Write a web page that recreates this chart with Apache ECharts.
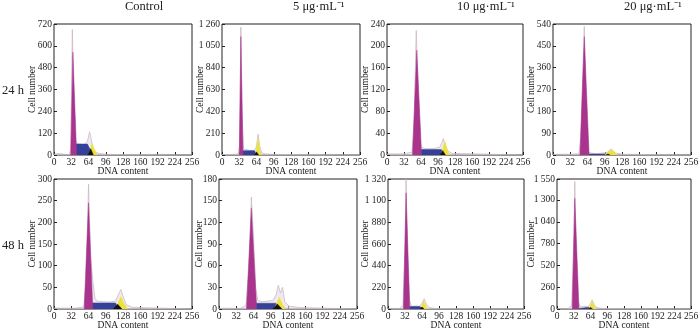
<!DOCTYPE html>
<html>
<head>
<meta charset="utf-8">
<script src="https://cdn.jsdelivr.net/npm/echarts@6/dist/echarts.min.js"></script>
<style>
  html, body { margin: 0; padding: 0; background: #fff; }
  #chart { width: 700px; height: 328px; }
</style>
</head>
<body>
<div id="chart"></div>
<script>
// column / row labels
var colTitles = ['Control', '5 μg·mL⁻¹', '10 μg·mL⁻¹', '20 μg·mL⁻¹']
var rowTitles = ['24 h', '48 h']

// y axis max and step per panel (row 1 then row 2)
var yMax = [720, 1260, 240, 540, 300, 180, 1320, 1550]
var yStep = [120, 210, 40, 90, 50, 30, 220, 260]

// each shape is [DNA content, cell number]
// 24 h, control
var c24Raw = [[0, 5], [10, 8], [20, 4], [28, 2], [31, 30], [34, 690], [37, 300], [40, 80], [44, 62], [50, 60], [56, 58], [62, 75], [66, 128], [69, 90], [72, 40], [76, 15], [85, 8], [100, 3], [256, 0]]
var c24G1 = [[31, 0], [35, 565], [42, 0]]
var c24S = [[35, 0], [38, 60], [62, 60], [72, 0]]
var c24G2 = [[64, 0], [71, 62], [75, 30], [81, 0]]
var c24Blk = [[63, 0], [68, 35], [73, 0]]
// 24 h, 5 ug/mL
var d5h24Raw = [[0, 5], [20, 5], [30, 10], [33, 100], [35, 1230], [37, 400], [40, 60], [50, 45], [60, 45], [64, 80], [67, 200], [70, 80], [74, 20], [80, 10], [100, 5], [256, 0]]
var d5h24G1 = [[32, 0], [35, 1140], [39, 0]]
var d5h24S = [[36, 0], [37, 42], [60, 42], [66, 0]]
var d5h24G2 = [[62, 0], [67, 165], [70, 40], [74, 0]]
var d5h24Blk = [[60, 0], [64, 30], [68, 0]]
// 24 h, 10 ug/mL
var d10h24Raw = [[0, 2], [30, 2], [47, 5], [51, 60], [55, 228], [59, 120], [64, 15], [70, 12], [80, 12], [90, 12], [100, 15], [106, 30], [109, 20], [114, 8], [122, 3], [256, 0]]
var d10h24G1 = [[48, 0], [56, 192], [65, 0]]
var d10h24S = [[58, 0], [62, 10], [102, 10], [112, 0]]
var d10h24G2 = [[102, 0], [109, 25], [113, 10], [118, 0]]
var d10h24Blk = [[100, 0], [105, 8], [110, 0]]
// 24 h, 20 ug/mL
var d20h24Raw = [[0, 3], [30, 3], [48, 5], [52, 80], [58, 530], [62, 150], [66, 10], [80, 5], [100, 10], [108, 25], [116, 8], [130, 3], [256, 0]]
var d20h24G1 = [[50, 0], [58, 488], [67, 0]]
var d20h24S = [[56, 0], [60, 4], [100, 4], [106, 0]]
var d20h24G2 = [[96, 0], [108, 22], [120, 0]]
var d20h24Blk = [[98, 0], [102, 4], [106, 0]]
// 48 h, control
var c48Raw = [[0, 2], [40, 2], [55, 5], [60, 60], [64, 288], [68, 120], [72, 65], [76, 25], [80, 18], [100, 16], [114, 18], [120, 35], [124, 45], [128, 30], [134, 10], [145, 4], [170, 3], [200, 2], [256, 0]]
var c48G1 = [[56, 0], [64, 245], [72, 0]]
var c48S = [[64, 0], [68, 14], [114, 14], [122, 0]]
var c48G2 = [[114, 0], [124, 28], [130, 12], [137, 0]]
var c48Blk = [[110, 0], [118, 11], [126, 0]]
// 48 h, 5 ug/mL
var d5h48Raw = [[0, 1], [40, 1], [50, 5], [56, 60], [60, 155], [64, 100], [68, 30], [72, 12], [80, 10], [100, 12], [106, 20], [110, 33], [114, 22], [118, 30], [122, 10], [130, 4], [150, 2], [256, 0]]
var d5h48G1 = [[51, 0], [60, 140], [70, 0]]
var d5h48S = [[58, 0], [62, 8], [106, 8], [118, 0]]
var d5h48G2 = [[102, 0], [112, 16], [118, 6], [124, 0]]
var d5h48Blk = [[100, 0], [108, 7], [117, 0]]
// 48 h, 10 ug/mL
var d10h48Raw = [[0, 3], [20, 3], [28, 30], [32, 600], [34, 1320], [37, 500], [40, 100], [44, 30], [60, 30], [64, 60], [68, 105], [72, 50], [78, 15], [90, 5], [256, 0]]
var d10h48G1 = [[29, 0], [34, 1180], [41, 0]]
var d10h48S = [[34, 0], [36, 25], [60, 25], [66, 0]]
var d10h48G2 = [[62, 0], [67, 80], [72, 20], [76, 0]]
var d10h48Blk = [[60, 0], [64, 20], [68, 0]]
// 48 h, 20 ug/mL
var d20h48Raw = [[0, 3], [20, 3], [28, 40], [32, 800], [34, 1520], [37, 500], [40, 100], [44, 30], [60, 30], [64, 60], [67, 110], [72, 40], [78, 15], [90, 5], [256, 0]]
var d20h48G1 = [[29, 0], [34, 1320], [42, 0]]
var d20h48S = [[34, 0], [36, 20], [60, 20], [66, 0]]
var d20h48G2 = [[61, 0], [67, 95], [72, 25], [76, 0]]
var d20h48Blk = [[60, 0], [64, 18], [68, 0]]

var panels = [
  { raw: c24Raw, g1: c24G1, s: c24S, g2: c24G2, blk: c24Blk },
  { raw: d5h24Raw, g1: d5h24G1, s: d5h24S, g2: d5h24G2, blk: d5h24Blk },
  { raw: d10h24Raw, g1: d10h24G1, s: d10h24S, g2: d10h24G2, blk: d10h24Blk },
  { raw: d20h24Raw, g1: d20h24G1, s: d20h24S, g2: d20h24G2, blk: d20h24Blk },
  { raw: c48Raw, g1: c48G1, s: c48S, g2: c48G2, blk: c48Blk },
  { raw: d5h48Raw, g1: d5h48G1, s: d5h48S, g2: d5h48G2, blk: d5h48Blk },
  { raw: d10h48Raw, g1: d10h48G1, s: d10h48S, g2: d10h48G2, blk: d10h48Blk },
  { raw: d20h48Raw, g1: d20h48G1, s: d20h48S, g2: d20h48G2, blk: d20h48Blk },
]

// left, top, width, height of each plot box, and gap of the y name
var boxes = [
  [54, 24, 138, 131], [222, 24, 138, 131], [387, 24, 136, 131], [553, 24, 138, 131],
  [54, 179, 138, 130], [219, 179, 138, 130], [388, 179, 136, 130], [557, 179, 134, 130],
]
var yNameGap = [17, 17, 17, 17, 17, 15, 18, 21]

var font = 'Liberation Serif, Times New Roman, serif'
var myChart = echarts.init(document.getElementById('chart'), null, { renderer: 'canvas' })

function fmtNum(v) {
  var s = String(v)
  return v >= 1000 ? s.replace(/(\d)(\d{3})$/, '$1 $2') : s
}

function area(gi, data, color, z, lineColor) {
  return {
    type: 'line',
    xAxisIndex: gi,
    yAxisIndex: gi,
    data: data,
    symbol: 'none',
    silent: true,
    z: z,
    lineStyle: { color: lineColor || color, width: lineColor ? 0.8 : 0.5 },
    areaStyle: { color: color, opacity: 1 },
  }
}

var grid = [], xAxis = [], yAxis = [], series = [], graphic = []
panels.forEach(function (p, i) {
  var b = boxes[i]
  grid.push({
    left: b[0], top: b[1], width: b[2], height: b[3],
    outerBoundsMode: 'none', containLabel: false,
    show: true, borderColor: '#222', borderWidth: 1, backgroundColor: 'transparent',
  })
  xAxis.push({
    type: 'value', gridIndex: i, min: 0, max: 256, interval: 32,
    name: 'DNA content', nameLocation: 'middle', nameGap: 11, nameMoveOverlap: false,
    nameTextStyle: { fontFamily: font, fontSize: 9.5, color: '#222' },
    axisLine: { show: false },
    axisTick: { show: true, inside: true, length: 3, lineStyle: { color: '#222' } },
    axisLabel: { fontFamily: font, fontSize: 9.5, color: '#222', margin: 2 },
    splitLine: { show: false },
  })
  yAxis.push({
    type: 'value', gridIndex: i, min: 0, max: yMax[i], interval: yStep[i],
    name: 'Cell number', nameLocation: 'middle', nameGap: yNameGap[i], nameMoveOverlap: false,
    nameTextStyle: { fontFamily: font, fontSize: 9.5, color: '#222' },
    axisLine: { show: false },
    axisTick: { show: true, inside: true, length: 3, lineStyle: { color: '#222' } },
    axisLabel: { fontFamily: font, fontSize: 9.5, color: '#222', margin: 2, formatter: fmtNum },
    splitLine: { show: false },
  })
  series.push(area(i, p.raw, 'rgba(228,218,226,0.6)', 1, 'rgba(200,180,195,0.9)'))
  series.push(area(i, p.s, '#34409a', 2))
  series.push(area(i, p.g1, '#a8348e', 3))
  series.push(area(i, p.g2, '#ece23a', 4))
  series.push(area(i, p.blk, '#111111', 5))
})

colTitles.forEach(function (t, c) {
  var b = boxes[c]
  graphic.push({
    type: 'text', left: b[0] + b[2] / 2 + 2, top: 0,
    style: { text: t, fontFamily: font, fontSize: 12.5, fill: '#222', textAlign: 'center' },
  })
})
rowTitles.forEach(function (t, r) {
  graphic.push({
    type: 'text', left: 2, top: r === 0 ? 84 : 239,
    style: { text: t, fontFamily: font, fontSize: 12.5, fill: '#222' },
  })
})

myChart.setOption({
  animation: false,
  grid: grid,
  xAxis: xAxis,
  yAxis: yAxis,
  series: series,
  graphic: graphic,
})
</script>
</body>
</html>
